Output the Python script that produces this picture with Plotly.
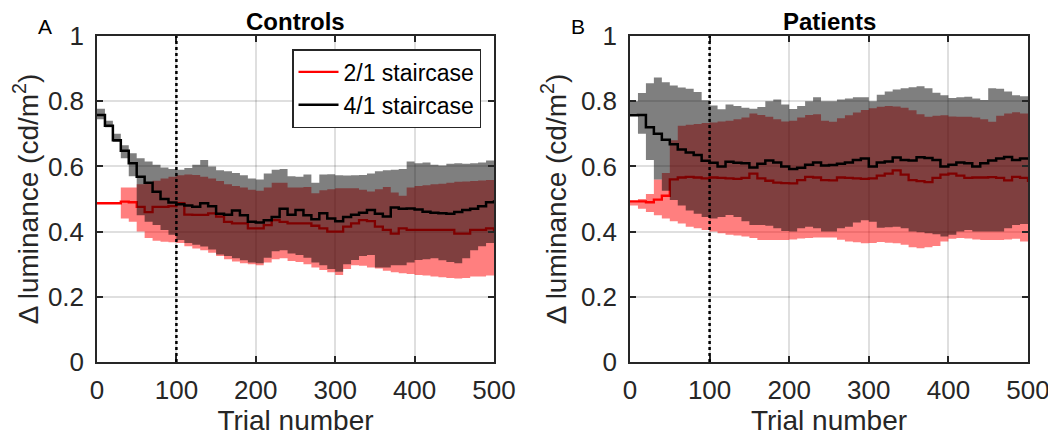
import plotly.graph_objects as go

# trial numbers sampled every 10 trials
trials = list(range(0, 510, 10))
cutoff_trial = 100

# Controls (panel A)
ctrl_21_mean = [0.487, 0.487, 0.487, 0.492, 0.490, 0.476, 0.460, 0.476, 0.476, 0.478,
                0.487, 0.452, 0.451, 0.451, 0.456, 0.446, 0.430, 0.425, 0.425, 0.410,
                0.410, 0.420, 0.435, 0.430, 0.425, 0.425, 0.425, 0.418, 0.410, 0.400,
                0.400, 0.415, 0.425, 0.435, 0.432, 0.415, 0.405, 0.394, 0.410, 0.405,
                0.405, 0.405, 0.405, 0.405, 0.405, 0.394, 0.394, 0.405, 0.405, 0.410,
                0.400]
ctrl_21_upper = [0.487, 0.487, 0.487, 0.535, 0.535, 0.545, 0.550, 0.556, 0.563, 0.568,
                 0.573, 0.575, 0.574, 0.568, 0.563, 0.555, 0.545, 0.540, 0.535, 0.528,
                 0.525, 0.535, 0.550, 0.550, 0.535, 0.535, 0.537, 0.518, 0.527, 0.530,
                 0.533, 0.533, 0.533, 0.528, 0.523, 0.530, 0.537, 0.520, 0.510, 0.535,
                 0.540, 0.542, 0.545, 0.547, 0.550, 0.553, 0.554, 0.555, 0.557, 0.558,
                 0.560]
ctrl_21_lower = [0.487, 0.487, 0.487, 0.440, 0.430, 0.400, 0.380, 0.372, 0.369, 0.367,
                 0.365, 0.355, 0.348, 0.343, 0.335, 0.325, 0.315, 0.308, 0.303, 0.300,
                 0.297, 0.305, 0.315, 0.318, 0.310, 0.307, 0.300, 0.290, 0.282, 0.275,
                 0.267, 0.285, 0.297, 0.295, 0.290, 0.287, 0.280, 0.275, 0.272, 0.270,
                 0.267, 0.265, 0.262, 0.260, 0.258, 0.256, 0.258, 0.262, 0.262, 0.265,
                 0.267]
ctrl_41_mean = [0.758, 0.725, 0.680, 0.648, 0.610, 0.568, 0.550, 0.522, 0.500, 0.489,
                0.484, 0.480, 0.476, 0.487, 0.478, 0.455, 0.452, 0.465, 0.450, 0.430,
                0.428, 0.435, 0.445, 0.470, 0.452, 0.466, 0.450, 0.438, 0.456, 0.440,
                0.432, 0.445, 0.452, 0.458, 0.466, 0.455, 0.446, 0.474, 0.470, 0.471,
                0.468, 0.461, 0.458, 0.456, 0.455, 0.460, 0.466, 0.470, 0.478, 0.490,
                0.496]
ctrl_41_upper = [0.777, 0.740, 0.700, 0.665, 0.640, 0.625, 0.615, 0.605, 0.597, 0.592,
                 0.590, 0.595, 0.605, 0.620, 0.600, 0.588, 0.585, 0.580, 0.573, 0.563,
                 0.560, 0.578, 0.590, 0.592, 0.570, 0.568, 0.575, 0.550, 0.575, 0.576,
                 0.573, 0.572, 0.573, 0.574, 0.578, 0.585, 0.588, 0.590, 0.592, 0.615,
                 0.610, 0.612, 0.605, 0.603, 0.608, 0.610, 0.608, 0.610, 0.612, 0.618,
                 0.620]
ctrl_41_lower = [0.745, 0.720, 0.675, 0.625, 0.570, 0.450, 0.430, 0.420, 0.405, 0.390,
                 0.374, 0.365, 0.360, 0.354, 0.345, 0.330, 0.325, 0.318, 0.312, 0.305,
                 0.303, 0.320, 0.340, 0.343, 0.333, 0.328, 0.320, 0.305, 0.297, 0.285,
                 0.277, 0.300, 0.313, 0.325, 0.328, 0.290, 0.290, 0.297, 0.297, 0.305,
                 0.313, 0.315, 0.318, 0.312, 0.307, 0.303, 0.318, 0.343, 0.355, 0.365,
                 0.374]

# Patients (panel B)
pat_21_mean = [0.493, 0.493, 0.490, 0.498, 0.510, 0.560, 0.566, 0.568, 0.566, 0.563,
               0.566, 0.565, 0.563, 0.562, 0.565, 0.578, 0.563, 0.556, 0.550, 0.549,
               0.548, 0.558, 0.568, 0.566, 0.558, 0.557, 0.566, 0.565, 0.563, 0.562,
               0.563, 0.572, 0.578, 0.588, 0.575, 0.558, 0.555, 0.552, 0.565, 0.575,
               0.578, 0.572, 0.565, 0.566, 0.566, 0.567, 0.565, 0.557, 0.568, 0.565,
               0.552]
pat_21_upper = [0.493, 0.500, 0.515, 0.560, 0.580, 0.680, 0.725, 0.728, 0.730, 0.733,
                0.735, 0.738, 0.740, 0.745, 0.750, 0.762, 0.758, 0.752, 0.745, 0.738,
                0.740, 0.750, 0.758, 0.760, 0.740, 0.737, 0.748, 0.757, 0.765, 0.773,
                0.778, 0.783, 0.785, 0.784, 0.780, 0.772, 0.760, 0.752, 0.755, 0.757,
                0.753, 0.752, 0.752, 0.750, 0.745, 0.737, 0.755, 0.762, 0.766, 0.762,
                0.758]
pat_21_lower = [0.480, 0.470, 0.460, 0.450, 0.440, 0.432, 0.425, 0.415, 0.410, 0.405,
                0.400, 0.395, 0.390, 0.388, 0.385, 0.380, 0.374, 0.374, 0.374, 0.374,
                0.376, 0.379, 0.380, 0.382, 0.382, 0.382, 0.375, 0.370, 0.367, 0.364,
                0.365, 0.368, 0.366, 0.364, 0.360, 0.352, 0.349, 0.352, 0.356, 0.370,
                0.378, 0.380, 0.379, 0.376, 0.374, 0.374, 0.374, 0.376, 0.378, 0.370,
                0.350]
pat_41_mean = [0.757, 0.758, 0.720, 0.700, 0.682, 0.668, 0.652, 0.643, 0.635, 0.617,
               0.611, 0.600, 0.614, 0.611, 0.610, 0.597, 0.608, 0.618, 0.612, 0.600,
               0.592, 0.596, 0.605, 0.612, 0.603, 0.604, 0.608, 0.612, 0.620, 0.624,
               0.600, 0.612, 0.615, 0.627, 0.620, 0.618, 0.628, 0.626, 0.620, 0.600,
               0.605, 0.612, 0.610, 0.600, 0.610, 0.618, 0.624, 0.629, 0.620, 0.624,
               0.626]
pat_41_upper = [0.800, 0.825, 0.855, 0.873, 0.858, 0.848, 0.842, 0.838, 0.828, 0.803,
                0.787, 0.775, 0.790, 0.785, 0.780, 0.777, 0.782, 0.800, 0.805, 0.790,
                0.776, 0.785, 0.800, 0.812, 0.800, 0.800, 0.805, 0.808, 0.812, 0.812,
                0.800, 0.820, 0.830, 0.836, 0.840, 0.843, 0.846, 0.840, 0.826, 0.818,
                0.810, 0.812, 0.814, 0.808, 0.804, 0.840, 0.838, 0.830, 0.818, 0.815,
                0.820]
pat_41_lower = [0.755, 0.700, 0.620, 0.560, 0.525, 0.497, 0.480, 0.465, 0.455, 0.445,
                0.440, 0.445, 0.451, 0.445, 0.432, 0.420, 0.420, 0.418, 0.410, 0.402,
                0.400, 0.410, 0.415, 0.410, 0.400, 0.400, 0.410, 0.415, 0.428, 0.435,
                0.430, 0.412, 0.413, 0.415, 0.410, 0.400, 0.398, 0.395, 0.392, 0.385,
                0.390, 0.400, 0.405, 0.400, 0.400, 0.400, 0.400, 0.410, 0.420, 0.423,
                0.425]

panels = [
    ("Controls", "A", ctrl_21_mean, ctrl_21_lower, ctrl_21_upper,
     ctrl_41_mean, ctrl_41_lower, ctrl_41_upper),
    ("Patients", "B", pat_21_mean, pat_21_lower, pat_21_upper,
     pat_41_mean, pat_41_lower, pat_41_upper),
]

# the page body adds an 8px margin, so the figure is 8px smaller than the window
W, H = 1048, 430
OFF = 8
x_domains = [[(97 - OFF) / W, (494 - OFF) / W], [(630 - OFF) / W, (1028 - OFF) / W]]
y_domain = [1 - (362 - OFF) / H, 1 - (36 - OFF) / H]

AX = "#262626"
FONT = "Liberation Sans, Arial, sans-serif"

fig = go.Figure()

for i, (title, letter, m21, lo21, up21, m41, lo41, up41) in enumerate(panels):
    xa = "x" if i == 0 else "x2"
    ya = "y" if i == 0 else "y2"
    first = i == 0

    # 2/1 staircase band and mean
    fig.add_trace(go.Scatter(x=trials, y=lo21, mode="lines", line=dict(width=0, shape="hv"),
                             showlegend=False, hoverinfo="skip", xaxis=xa, yaxis=ya))
    fig.add_trace(go.Scatter(x=trials, y=up21, mode="lines", line=dict(width=0, shape="hv"),
                             fill="tonexty", fillcolor="rgba(255,0,0,0.5)",
                             showlegend=False, hoverinfo="skip", xaxis=xa, yaxis=ya))
    fig.add_trace(go.Scatter(x=trials, y=m21, mode="lines", name="2/1 staircase",
                             line=dict(color="#ff0000", width=2.3, shape="hv"),
                             showlegend=first, xaxis=xa, yaxis=ya))

    # 4/1 staircase band and mean
    fig.add_trace(go.Scatter(x=trials, y=lo41, mode="lines", line=dict(width=0, shape="hv"),
                             showlegend=False, hoverinfo="skip", xaxis=xa, yaxis=ya))
    fig.add_trace(go.Scatter(x=trials, y=up41, mode="lines", line=dict(width=0, shape="hv"),
                             fill="tonexty", fillcolor="rgba(0,0,0,0.5)",
                             showlegend=False, hoverinfo="skip", xaxis=xa, yaxis=ya))
    fig.add_trace(go.Scatter(x=trials, y=m41, mode="lines", name="4/1 staircase",
                             line=dict(color="#000000", width=2.5, shape="hv"),
                             showlegend=first, xaxis=xa, yaxis=ya))

    # dotted line at trial 100
    fig.add_shape(type="line", x0=cutoff_trial, x1=cutoff_trial, y0=0, y1=1,
                  xref=xa, yref=ya, line=dict(color="black", width=2.5, dash="dot"))

    # panel title and letter
    mid = (x_domains[i][0] + x_domains[i][1]) / 2
    fig.add_annotation(text=f"<b>{title}</b>", x=mid, y=1 - (36 - OFF) / H,
                       xref="paper", yref="paper", xanchor="center", yanchor="bottom",
                       showarrow=False, borderpad=0,
                       font=dict(size=24, color="black", family=FONT))
    fig.add_annotation(text=letter, x=x_domains[i][0] - 60 / W, y=1 - (39 - OFF) / H,
                       xref="paper", yref="paper", xanchor="left", yanchor="bottom",
                       showarrow=False, borderpad=0,
                       font=dict(size=21, color="black", family=FONT))

axis_common = dict(
    showline=True, linecolor=AX, linewidth=1.5, mirror="ticks",
    ticks="inside", ticklen=6, tickwidth=1.5, tickcolor=AX,
    showgrid=True, gridcolor="rgba(38,38,38,0.15)", gridwidth=1.5, zeroline=False,
    layer="above traces", automargin=False,
    tickfont=dict(size=26, color=AX, family=FONT),
)

for i in range(2):
    sfx = "" if i == 0 else "2"
    fig.update_layout(**{
        f"xaxis{sfx}": dict(axis_common, domain=x_domains[i], range=[0, 500],
                            tickvals=[0, 100, 200, 300, 400, 500], ticklabelstandoff=4,
                            anchor=f"y{sfx}",
                            title=dict(text="Trial number", standoff=4,
                                       font=dict(size=28, color=AX, family=FONT))),
        f"yaxis{sfx}": dict(axis_common, domain=y_domain, range=[0, 1],
                            tickvals=[0, 0.2, 0.4, 0.6, 0.8, 1],
                            ticktext=["0", "0.2", "0.4", "0.6", "0.8", "1"],
                            ticklabelstandoff=6, anchor=f"x{sfx}",
                            title=dict(text="\u0394 luminance (cd/m<sup>2</sup>)", standoff=6,
                                       font=dict(size=28, color=AX, family=FONT))),
    })

fig.update_layout(
    width=W, height=H,
    margin=dict(l=0, r=0, t=0, b=0),
    paper_bgcolor="white", plot_bgcolor="white",
    font=dict(family=FONT, color=AX),
    legend=dict(x=(481 - OFF) / W, y=1 - (49 - OFF) / H, xanchor="right", yanchor="top",
                bgcolor="white", bordercolor=AX, borderwidth=1.5, traceorder="normal",
                font=dict(size=23, color="black", family=FONT),
                tracegroupgap=0, itemwidth=40),
)

fig.write_html("out.html")
